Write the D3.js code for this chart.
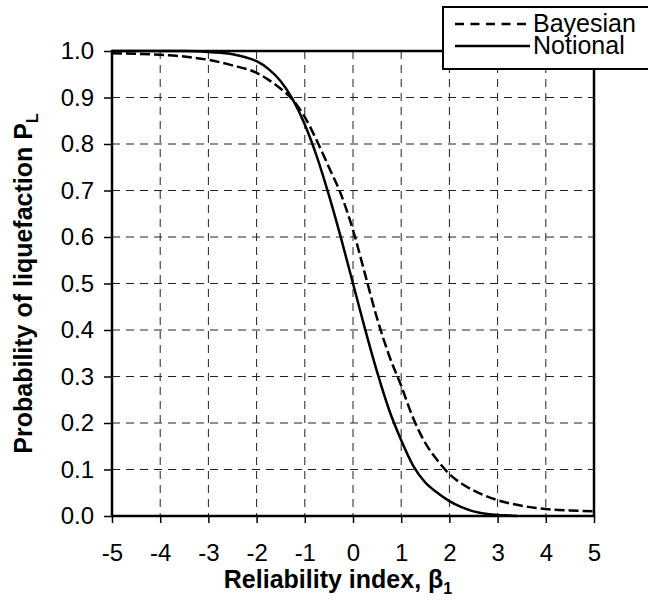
<!DOCTYPE html>
<html>
<head>
<meta charset="utf-8">
<script src="https://cdn.jsdelivr.net/npm/d3@7"></script>
<style>
    body { margin: 0; background: #fff; }
    text { font-family: "Liberation Sans", Arial, sans-serif; fill: #000; }
</style>
</head>
<body>
<div id="chart"></div>
<script>
// Notional curve
const betaNotional = [-5, -4.5, -4, -3.5, -3, -2.75, -2.5, -2.25, -2, -1.75, -1.5, -1.25, -1, -0.75, -0.5, -0.25,
    0, 0.25, 0.5, 0.75, 1, 1.25, 1.5, 1.75, 2, 2.25, 2.5, 2.75, 3, 3.25, 3.4];
const pNotional = [1.0, 1.0, 1.0, 1.0, 0.998, 0.996, 0.993, 0.987, 0.978, 0.961, 0.935, 0.896, 0.842, 0.773, 0.69, 0.598,
    0.5, 0.402, 0.31, 0.228, 0.163, 0.108, 0.072, 0.05, 0.032, 0.019, 0.01, 0.005, 0.002, 0.001, 0.0];

// Bayesian curve
const betaBayesian = [-5, -4.5, -4, -3.5, -3, -2.5, -2, -1.75, -1.5, -1.25, -1, -0.75, -0.5, -0.25,
    0, 0.25, 0.5, 0.75, 1, 1.25, 1.5, 1.75, 2, 2.25, 2.5, 3, 3.5, 4, 4.5, 5];
const pBayesian = [0.995, 0.994, 0.992, 0.988, 0.981, 0.969, 0.953, 0.938, 0.919, 0.895, 0.858, 0.807, 0.75, 0.692,
    0.615, 0.52, 0.425, 0.345, 0.28, 0.21, 0.157, 0.12, 0.09, 0.07, 0.055, 0.034, 0.022, 0.015, 0.012, 0.01];

const xTicks = [-5, -4, -3, -2, -1, 0, 1, 2, 3, 4, 5];
const yTicks = [0, 0.1, 0.2, 0.3, 0.4, 0.5, 0.6, 0.7, 0.8, 0.9, 1.0];
const seriesNames = ["Bayesian", "Notional"];

const width = 648, height = 606;
const plot = { left: 112, right: 594, top: 51, bottom: 516 };

const svg = d3.select("#chart")
    .append("svg")
    .attr("width", width)
    .attr("height", height);

// Thang đo
const x = d3.scaleLinear().domain([-5, 5]).range([plot.left, plot.right]);
const y = d3.scaleLinear().domain([0, 1]).range([plot.bottom, plot.top]);

// Gridlines (dashed)
const grid = svg.append("g");
grid.selectAll(".vgrid")
    .data(xTicks.slice(1, -1))
    .enter().append("line")
    .attr("x1", d => x(d)).attr("x2", d => x(d))
    .attr("y1", plot.top).attr("y2", plot.bottom)
    .attr("stroke", "#222").attr("stroke-width", 1)
    .attr("stroke-dasharray", "8,6");
grid.selectAll(".hgrid")
    .data(yTicks.slice(1, -1))
    .enter().append("line")
    .attr("x1", plot.left).attr("x2", plot.right)
    .attr("y1", d => y(d)).attr("y2", d => y(d))
    .attr("stroke", "#222").attr("stroke-width", 1)
    .attr("stroke-dasharray", "8,6");

// Curves
const line = d3.line()
    .x(d => x(d[0]))
    .y(d => y(d[1]))
    .curve(d3.curveMonotoneX);

svg.append("path")
    .datum(betaBayesian.map((b, i) => [b, pBayesian[i]]))
    .attr("d", line)
    .attr("fill", "none")
    .attr("stroke", "#000")
    .attr("stroke-width", 2.5)
    .attr("stroke-dasharray", "10,4");

svg.append("path")
    .datum(betaNotional.map((b, i) => [b, pNotional[i]]))
    .attr("d", line)
    .attr("fill", "none")
    .attr("stroke", "#000")
    .attr("stroke-width", 2.5);

// Trục Y
const yAxis = svg.append("g")
    .attr("transform", `translate(${plot.left},0)`)
    .call(d3.axisLeft(y).tickValues(yTicks).tickFormat(d3.format(".1f")).tickSize(8).tickPadding(10));
yAxis.select(".domain").remove();
yAxis.selectAll("line").attr("stroke", "#000").attr("stroke-width", 1.5);
yAxis.selectAll("text").style("font-size", "24px").attr("font-family", null);

// Trục X
const xAxis = svg.append("g")
    .attr("transform", `translate(0,${plot.bottom})`)
    .call(d3.axisBottom(x).tickValues(xTicks).tickFormat(d3.format("d")).tickSize(7).tickPadding(21));
xAxis.select(".domain").remove();
xAxis.selectAll("line").attr("stroke", "#000").attr("stroke-width", 1.5);
xAxis.selectAll("text").style("font-size", "24px").attr("font-family", null)
    .text(d => d < 0 ? "-" + Math.abs(d) : d);

// Frame
svg.append("rect")
    .attr("x", plot.left).attr("y", plot.top)
    .attr("width", plot.right - plot.left).attr("height", plot.bottom - plot.top)
    .attr("fill", "none").attr("stroke", "#000").attr("stroke-width", 2.5);

// Axis titles
const xTitle = svg.append("text")
    .attr("x", 338).attr("y", 588)
    .attr("text-anchor", "middle")
    .style("font-size", "25px").style("font-weight", "bold");
xTitle.append("tspan").text("Reliability index, β");
xTitle.append("tspan").attr("dy", 6).style("font-size", "16px").text("1");

const yTitle = svg.append("text")
    .attr("transform", `translate(32,${(plot.top + plot.bottom) / 2}) rotate(-90)`)
    .attr("text-anchor", "middle")
    .style("font-size", "25px").style("font-weight", "bold");
yTitle.append("tspan").text("Probability of liquefaction P");
yTitle.append("tspan").attr("dy", 6).style("font-size", "16px").text("L");

// Legend
const legend = svg.append("g");
legend.append("rect")
    .attr("x", 443).attr("y", 7)
    .attr("width", 220).attr("height", 62)
    .attr("fill", "#fff").attr("stroke", "#000").attr("stroke-width", 2);
legend.append("line")
    .attr("x1", 455).attr("x2", 528).attr("y1", 24).attr("y2", 24)
    .attr("stroke", "#000").attr("stroke-width", 2.5).attr("stroke-dasharray", "9,6.5");
legend.append("line")
    .attr("x1", 455).attr("x2", 530).attr("y1", 46).attr("y2", 46)
    .attr("stroke", "#000").attr("stroke-width", 2.5);
legend.selectAll(".lt")
    .data(seriesNames)
    .enter().append("text")
    .attr("x", 533)
    .attr("y", (d, i) => 32 + i * 22)
    .style("font-size", "25px")
    .text(d => d);
</script>
</body>
</html>
